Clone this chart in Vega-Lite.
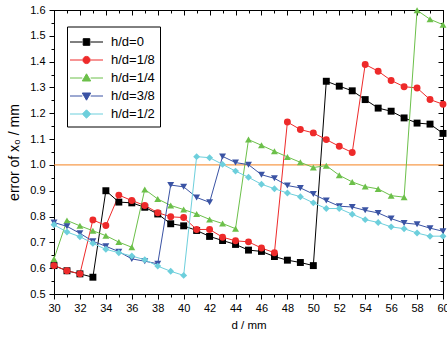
{
  "$schema": "https://vega.github.io/schema/vega-lite/v6.json",
  "width": 389,
  "height": 284,
  "autosize": "none",
  "padding": {"left": 54, "top": 10, "right": 4, "bottom": 50},
  "background": "white",
  "config": {
    "view": {"stroke": null},
    "font": "Liberation Sans",
    "axis": {"grid": false, "domainColor": "black", "tickColor": "black", "labelColor": "black", "titleColor": "black", "labelFont": "Liberation Sans", "titleFont": "Liberation Sans", "titleFontWeight": "normal", "labelFontSize": 11, "titleFontSize": 12},
    "legend": {"title": null, "orient": "none", "legendX": 13, "legendY": 16.5, "strokeColor": "black", "fillColor": "white", "padding": 5, "symbolSize": 400, "symbolOffset": 4, "symbolStrokeWidth": 1, "labelOffset": 14, "labelFontSize": 13, "labelFont": "Liberation Sans", "labelColor": "black", "rowPadding": -1.2}
  },
  "datasets": {
    "main": [
      {"d":30,"err":0.61,"s":"h/d=0"},{"d":31,"err":0.59,"s":"h/d=0"},{"d":32,"err":0.578,"s":"h/d=0"},{"d":33,"err":0.565,"s":"h/d=0"},{"d":34,"err":0.90,"s":"h/d=0"},{"d":35,"err":0.856,"s":"h/d=0"},{"d":36,"err":0.853,"s":"h/d=0"},{"d":37,"err":0.836,"s":"h/d=0"},{"d":38,"err":0.81,"s":"h/d=0"},{"d":39,"err":0.772,"s":"h/d=0"},{"d":40,"err":0.764,"s":"h/d=0"},{"d":41,"err":0.746,"s":"h/d=0"},{"d":42,"err":0.723,"s":"h/d=0"},{"d":43,"err":0.707,"s":"h/d=0"},{"d":44,"err":0.692,"s":"h/d=0"},{"d":45,"err":0.670,"s":"h/d=0"},{"d":46,"err":0.665,"s":"h/d=0"},{"d":47,"err":0.645,"s":"h/d=0"},{"d":48,"err":0.631,"s":"h/d=0"},{"d":49,"err":0.622,"s":"h/d=0"},{"d":50,"err":0.61,"s":"h/d=0"},{"d":51,"err":1.324,"s":"h/d=0"},{"d":52,"err":1.305,"s":"h/d=0"},{"d":53,"err":1.287,"s":"h/d=0"},{"d":54,"err":1.253,"s":"h/d=0"},{"d":55,"err":1.22,"s":"h/d=0"},{"d":56,"err":1.208,"s":"h/d=0"},{"d":57,"err":1.182,"s":"h/d=0"},{"d":58,"err":1.162,"s":"h/d=0"},{"d":59,"err":1.158,"s":"h/d=0"},{"d":60,"err":1.122,"s":"h/d=0"},
      {"d":30,"err":0.61,"s":"h/d=1/8"},{"d":31,"err":0.59,"s":"h/d=1/8"},{"d":32,"err":0.578,"s":"h/d=1/8"},{"d":33,"err":0.787,"s":"h/d=1/8"},{"d":34,"err":0.765,"s":"h/d=1/8"},{"d":35,"err":0.883,"s":"h/d=1/8"},{"d":36,"err":0.862,"s":"h/d=1/8"},{"d":37,"err":0.843,"s":"h/d=1/8"},{"d":38,"err":0.815,"s":"h/d=1/8"},{"d":39,"err":0.799,"s":"h/d=1/8"},{"d":40,"err":0.796,"s":"h/d=1/8"},{"d":41,"err":0.75,"s":"h/d=1/8"},{"d":42,"err":0.75,"s":"h/d=1/8"},{"d":43,"err":0.72,"s":"h/d=1/8"},{"d":44,"err":0.706,"s":"h/d=1/8"},{"d":45,"err":0.702,"s":"h/d=1/8"},{"d":46,"err":0.678,"s":"h/d=1/8"},{"d":47,"err":0.66,"s":"h/d=1/8"},{"d":48,"err":1.166,"s":"h/d=1/8"},{"d":49,"err":1.137,"s":"h/d=1/8"},{"d":50,"err":1.124,"s":"h/d=1/8"},{"d":51,"err":1.098,"s":"h/d=1/8"},{"d":52,"err":1.072,"s":"h/d=1/8"},{"d":53,"err":1.048,"s":"h/d=1/8"},{"d":54,"err":1.389,"s":"h/d=1/8"},{"d":55,"err":1.363,"s":"h/d=1/8"},{"d":56,"err":1.327,"s":"h/d=1/8"},{"d":57,"err":1.303,"s":"h/d=1/8"},{"d":58,"err":1.298,"s":"h/d=1/8"},{"d":59,"err":1.253,"s":"h/d=1/8"},{"d":60,"err":1.235,"s":"h/d=1/8"},
      {"d":30,"err":0.636,"s":"h/d=1/4"},{"d":31,"err":0.785,"s":"h/d=1/4"},{"d":32,"err":0.764,"s":"h/d=1/4"},{"d":33,"err":0.745,"s":"h/d=1/4"},{"d":34,"err":0.726,"s":"h/d=1/4"},{"d":35,"err":0.701,"s":"h/d=1/4"},{"d":36,"err":0.681,"s":"h/d=1/4"},{"d":37,"err":0.905,"s":"h/d=1/4"},{"d":38,"err":0.868,"s":"h/d=1/4"},{"d":39,"err":0.843,"s":"h/d=1/4"},{"d":40,"err":0.827,"s":"h/d=1/4"},{"d":41,"err":0.81,"s":"h/d=1/4"},{"d":42,"err":0.789,"s":"h/d=1/4"},{"d":43,"err":0.773,"s":"h/d=1/4"},{"d":44,"err":0.753,"s":"h/d=1/4"},{"d":45,"err":1.098,"s":"h/d=1/4"},{"d":46,"err":1.076,"s":"h/d=1/4"},{"d":47,"err":1.053,"s":"h/d=1/4"},{"d":48,"err":1.031,"s":"h/d=1/4"},{"d":49,"err":1.01,"s":"h/d=1/4"},{"d":50,"err":0.99,"s":"h/d=1/4"},{"d":51,"err":0.997,"s":"h/d=1/4"},{"d":52,"err":0.96,"s":"h/d=1/4"},{"d":53,"err":0.934,"s":"h/d=1/4"},{"d":54,"err":0.916,"s":"h/d=1/4"},{"d":55,"err":0.907,"s":"h/d=1/4"},{"d":56,"err":0.881,"s":"h/d=1/4"},{"d":57,"err":0.875,"s":"h/d=1/4"},{"d":58,"err":1.599,"s":"h/d=1/4"},{"d":59,"err":1.564,"s":"h/d=1/4"},{"d":60,"err":1.543,"s":"h/d=1/4"},
      {"d":30,"err":0.777,"s":"h/d=3/8"},{"d":31,"err":0.762,"s":"h/d=3/8"},{"d":32,"err":0.735,"s":"h/d=3/8"},{"d":33,"err":0.704,"s":"h/d=3/8"},{"d":34,"err":0.685,"s":"h/d=3/8"},{"d":35,"err":0.664,"s":"h/d=3/8"},{"d":36,"err":0.636,"s":"h/d=3/8"},{"d":37,"err":0.627,"s":"h/d=3/8"},{"d":38,"err":0.617,"s":"h/d=3/8"},{"d":39,"err":0.922,"s":"h/d=3/8"},{"d":40,"err":0.915,"s":"h/d=3/8"},{"d":41,"err":0.874,"s":"h/d=3/8"},{"d":42,"err":0.855,"s":"h/d=3/8"},{"d":43,"err":1.033,"s":"h/d=3/8"},{"d":44,"err":1.009,"s":"h/d=3/8"},{"d":45,"err":1.001,"s":"h/d=3/8"},{"d":46,"err":0.962,"s":"h/d=3/8"},{"d":47,"err":0.948,"s":"h/d=3/8"},{"d":48,"err":0.92,"s":"h/d=3/8"},{"d":49,"err":0.911,"s":"h/d=3/8"},{"d":50,"err":0.887,"s":"h/d=3/8"},{"d":51,"err":0.862,"s":"h/d=3/8"},{"d":52,"err":0.84,"s":"h/d=3/8"},{"d":53,"err":0.837,"s":"h/d=3/8"},{"d":54,"err":0.824,"s":"h/d=3/8"},{"d":55,"err":0.814,"s":"h/d=3/8"},{"d":56,"err":0.792,"s":"h/d=3/8"},{"d":57,"err":0.775,"s":"h/d=3/8"},{"d":58,"err":0.77,"s":"h/d=3/8"},{"d":59,"err":0.755,"s":"h/d=3/8"},{"d":60,"err":0.743,"s":"h/d=3/8"},
      {"d":30,"err":0.768,"s":"h/d=1/2"},{"d":31,"err":0.74,"s":"h/d=1/2"},{"d":32,"err":0.722,"s":"h/d=1/2"},{"d":33,"err":0.696,"s":"h/d=1/2"},{"d":34,"err":0.673,"s":"h/d=1/2"},{"d":35,"err":0.66,"s":"h/d=1/2"},{"d":36,"err":0.647,"s":"h/d=1/2"},{"d":37,"err":0.633,"s":"h/d=1/2"},{"d":38,"err":0.608,"s":"h/d=1/2"},{"d":39,"err":0.588,"s":"h/d=1/2"},{"d":40,"err":0.572,"s":"h/d=1/2"},{"d":41,"err":1.032,"s":"h/d=1/2"},{"d":42,"err":1.028,"s":"h/d=1/2"},{"d":43,"err":1.002,"s":"h/d=1/2"},{"d":44,"err":0.976,"s":"h/d=1/2"},{"d":45,"err":0.952,"s":"h/d=1/2"},{"d":46,"err":0.925,"s":"h/d=1/2"},{"d":47,"err":0.908,"s":"h/d=1/2"},{"d":48,"err":0.891,"s":"h/d=1/2"},{"d":49,"err":0.877,"s":"h/d=1/2"},{"d":50,"err":0.853,"s":"h/d=1/2"},{"d":51,"err":0.831,"s":"h/d=1/2"},{"d":52,"err":0.831,"s":"h/d=1/2"},{"d":53,"err":0.809,"s":"h/d=1/2"},{"d":54,"err":0.788,"s":"h/d=1/2"},{"d":55,"err":0.777,"s":"h/d=1/2"},{"d":56,"err":0.76,"s":"h/d=1/2"},{"d":57,"err":0.753,"s":"h/d=1/2"},{"d":58,"err":0.736,"s":"h/d=1/2"},{"d":59,"err":0.724,"s":"h/d=1/2"},{"d":60,"err":0.724,"s":"h/d=1/2"}
    ],
    "ref": [{"err": 1.0}]
  },
  "resolve": {"axis": {"x": "independent", "y": "independent"}, "scale": {"shape": "independent"}, "legend": {"color": "independent", "shape": "independent", "stroke": "independent"}},
  "layer": [
    {
      "data": {"name": "ref"},
      "mark": {"type": "rule", "color": "#f5821f", "strokeWidth": 1},
      "encoding": {
        "y": {"field": "err", "type": "quantitative", "scale": {"domain": [0.5, 1.6], "nice": false, "zero": false}, "axis": null}
      }
    },
    {
      "data": {"name": "main"},
      "mark": {"type": "line", "strokeWidth": 1},
      "encoding": {
        "x": {"field": "d", "type": "quantitative", "scale": {"domain": [30, 60], "nice": false, "zero": false}, "axis": null},
        "y": {"field": "err", "type": "quantitative", "axis": null},
        "color": {"field": "s", "type": "nominal", "legend": null},
        "detail": {"field": "s"}
      }
    },
    {
      "data": {"name": "main"},
      "mark": {"type": "point", "filled": true, "opacity": 1, "size": 48},
      "encoding": {
        "x": {"field": "d", "type": "quantitative", "axis": {"orient": "bottom", "values": [30,32,34,36,38,40,42,44,46,48,50,52,54,56,58,60], "tickSize": 5, "labelPadding": 3, "title": "d / mm", "titlePadding": 6, "titleFontSize": 11.5, "labelFlush": false}},
        "y": {"field": "err", "type": "quantitative", "axis": {"orient": "left", "values": [0.5,0.6,0.7,0.8,0.9,1.0,1.1,1.2,1.3,1.4,1.5,1.6], "format": ".1f", "tickSize": 5, "labelPadding": 4, "title": "error of x₀ / mm", "titlePadding": 8, "titleFontSize": 14, "labelFlush": false}},
        "color": {
          "field": "s", "type": "nominal",
          "scale": {"domain": ["h/d=0","h/d=1/8","h/d=1/4","h/d=3/8","h/d=1/2"], "range": ["#000000","#ee2a2a","#6cc04a","#3a53a4","#6dcfdc"]},
          "legend": null
        },
        "shape": {
          "field": "s", "type": "nominal",
          "scale": {"domain": ["h/d=0","h/d=1/8","h/d=1/4","h/d=3/8","h/d=1/2"], "range": ["square","circle","triangle-up","triangle-down","diamond"]},
          "legend": null
        }
      }
    },
    {
      "data": {"name": "main"},
      "transform": [{"filter": "datum.d > 1000"}],
      "mark": {"type": "point", "filled": true, "strokeWidth": 1, "opacity": 1},
      "encoding": {
        "x": {"field": "d", "type": "quantitative", "axis": null},
        "y": {"field": "err", "type": "quantitative", "axis": null},
        "color": {"field": "s", "type": "nominal", "legend": {}},
        "stroke": {"field": "s", "type": "nominal", "scale": {"domain": ["h/d=0","h/d=1/8","h/d=1/4","h/d=3/8","h/d=1/2"], "range": ["#000000","#ee2a2a","#6cc04a","#3a53a4","#6dcfdc"]}, "legend": {}},
        "shape": {
          "field": "s", "type": "nominal",
          "scale": {"domain": ["h/d=0","h/d=1/8","h/d=1/4","h/d=3/8","h/d=1/2"], "range": [
            "M-1.65,0H-0.4M0.4,0H1.65M-0.33,-0.33H0.33V0.33H-0.33Z",
            "M-1.65,0H-0.4M0.4,0H1.65M-0.36,0A0.36,0.36,0,1,0,0.36,0A0.36,0.36,0,1,0,-0.36,0Z",
            "M-1.65,0H-0.42M0.42,0H1.65M-0.42,0.3L0,-0.42L0.42,0.3Z",
            "M-1.65,0H-0.42M0.42,0H1.65M-0.42,-0.3L0,0.42L0.42,-0.3Z",
            "M-1.65,0H-0.42M0.42,0H1.65M-0.42,0L0,-0.42L0.42,0L0,0.42Z"
          ]},
          "legend": {}
        }
      }
    },
    {
      "data": {"name": "main"},
      "mark": {"type": "point", "opacity": 0},
      "encoding": {
        "x": {"field": "d", "type": "quantitative", "axis": {"orient": "top", "values": [30,32,34,36,38,40,42,44,46,48,50,52,54,56,58,60], "tickSize": -5, "labels": false, "title": null}},
        "y": {"field": "err", "type": "quantitative", "axis": {"orient": "right", "values": [0.5,0.6,0.7,0.8,0.9,1.0,1.1,1.2,1.3,1.4,1.5,1.6], "tickSize": -5, "labels": false, "title": null}}
      }
    },
    {
      "data": {"name": "main"},
      "mark": {"type": "point", "opacity": 0},
      "encoding": {
        "x": {"field": "d", "type": "quantitative", "axis": {"orient": "bottom", "values": [31,33,35,37,39,41,43,45,47,49,51,53,55,57,59], "tickSize": 3, "labels": false, "title": null}},
        "y": {"field": "err", "type": "quantitative", "axis": {"orient": "left", "values": [0.55,0.65,0.75,0.85,0.95,1.05,1.15,1.25,1.35,1.45,1.55], "tickSize": 3, "labels": false, "title": null}}
      }
    },
    {
      "data": {"name": "main"},
      "mark": {"type": "point", "opacity": 0},
      "encoding": {
        "x": {"field": "d", "type": "quantitative", "axis": {"orient": "top", "values": [31,33,35,37,39,41,43,45,47,49,51,53,55,57,59], "tickSize": -3, "labels": false, "title": null}},
        "y": {"field": "err", "type": "quantitative", "axis": {"orient": "right", "values": [0.55,0.65,0.75,0.85,0.95,1.05,1.15,1.25,1.35,1.45,1.55], "tickSize": -3, "labels": false, "title": null}}
      }
    }
  ]
}
